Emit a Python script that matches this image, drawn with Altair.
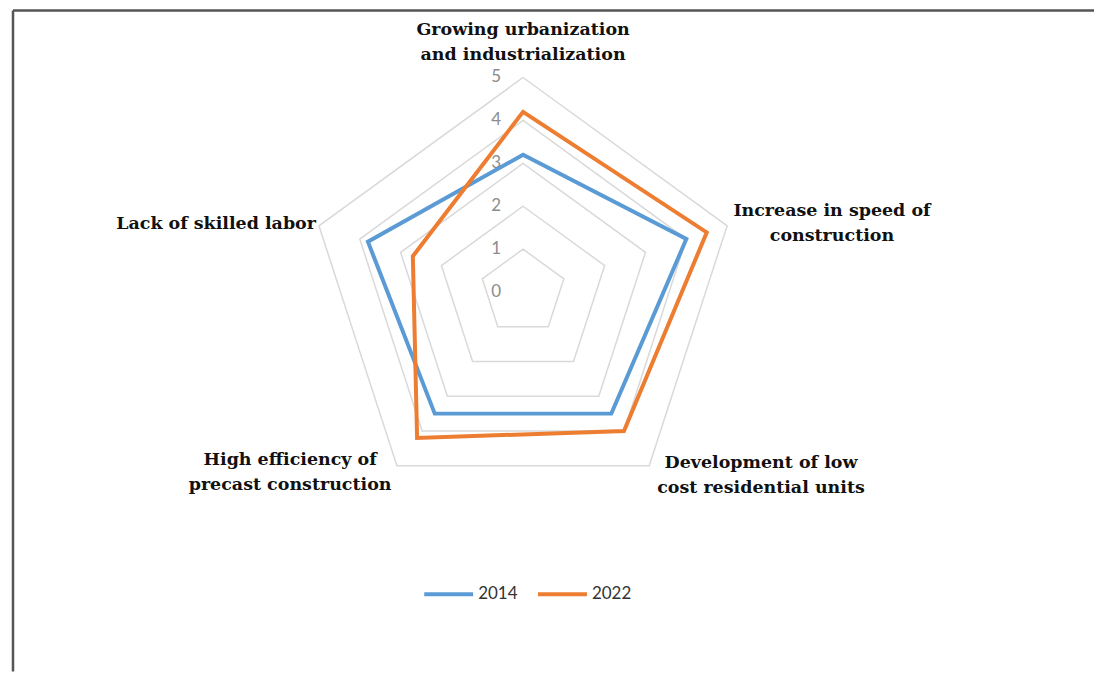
import math
import altair as alt
import pandas as pd

# ---------------- data ----------------
categories = [
    "Growing urbanization\nand industrialization",
    "Increase in speed of\nconstruction",
    "Development of low\ncost residential units",
    "High efficiency of\nprecast construction",
    "Lack of skilled labor",
]
series_names = ["2014", "2022"]
values_2014 = [3.2, 4.0, 3.5, 3.5, 3.8]
values_2022 = [4.2, 4.5, 4.0, 4.2, 2.7]
tick_labels = [0, 1, 2, 3, 4, 5]
grid_levels = [1, 2, 3, 4, 5]
max_level = 5

# ---------------- layout ----------------
W, H = 1088, 662
U = 43            # pixels per unit
CX, CY = 516, 282  # centre of radar in chart pixels
BLUE, ORANGE = "#5B9BD5", "#ED7D31"
GRID = "#D9D9D9"
LABEL_FONT = "DejaVu Serif"

n = len(categories)

rows = []
for name, vals in zip(series_names, [values_2014, values_2022]):
    for i, v in enumerate(vals):
        rows.append({"idx": i, "category": categories[i], "series": name, "value": v})
series_df = pd.DataFrame(rows)

grid_df = pd.DataFrame(
    [{"idx": i, "level": lv, "value": lv} for lv in grid_levels for i in range(n)]
)
tick_df = pd.DataFrame({"tick": tick_labels, "value": tick_labels, "idx": 0})
label_df = pd.DataFrame({"idx": list(range(n)), "category": categories, "value": max_level})

angle_expr = f"PI/2 - datum.idx*2*PI/{n}"
xscale = alt.Scale(domain=[-CX / U, (W - CX) / U], nice=False, zero=False)
yscale = alt.Scale(domain=[-(H - CY) / U, CY / U], nice=False, zero=False)


def polar(chart):
    return chart.transform_calculate(
        ang=angle_expr
    ).transform_calculate(
        px="datum.value*cos(datum.ang)", py="datum.value*sin(datum.ang)"
    )


X = alt.X("px:Q", scale=xscale, axis=None)
Y = alt.Y("py:Q", scale=yscale, axis=None)

grid = polar(alt.Chart(grid_df)).mark_line(
    color=GRID, strokeWidth=1.5, interpolate="linear-closed"
).encode(x=X, y=Y, detail="level:N", order="idx:Q")

lines = polar(alt.Chart(series_df)).mark_line(
    strokeWidth=4, interpolate="linear-closed"
).encode(
    x=X,
    y=Y,
    order="idx:Q",
    color=alt.Color(
        "series:N",
        scale=alt.Scale(domain=series_names, range=[BLUE, ORANGE]),
        legend=alt.Legend(
            title=None,
            orient="none",
            legendX=415,
            legendY=558,
            direction="horizontal",
            symbolType="stroke",
            symbolSize=2401,
            symbolStrokeWidth=4,
            labelFont="Lato",
            labelFontSize=17,
            labelColor="#333333",
            labelOffset=3,
            columnPadding=12,
            padding=0,
        ),
    ),
)

ticks = polar(alt.Chart(tick_df)).transform_calculate(px="0").mark_text(
    dx=-27, color="#8C8C8C", font="Lato", fontSize=17, baseline="middle"
).encode(x=X, y=Y, text="tick:Q")

label_layout = {
    0: dict(dx=0, dy=-48, align="center"),
    1: dict(dx=105, dy=-15, align="center"),
    2: dict(dx=112, dy=-3, align="center"),
    3: dict(dx=-107, dy=-6, align="center"),
    4: dict(dx=-3, dy=-2, align="right"),
}
label_layers = []
for i in range(n):
    lay = label_layout[i]
    label_layers.append(
        polar(alt.Chart(label_df))
        .transform_filter(f"datum.idx == {i}")
        .mark_text(
            font=LABEL_FONT,
            fontWeight="bold",
            fontSize=17.5,
            color="#111111",
            lineBreak="\n",
            lineHeight=25,
            baseline="middle",
            **lay,
        )
        .encode(x=X, y=Y, text="category:N")
    )

frame_df = pd.DataFrame({"a": [0]})
frame_top = alt.Chart(frame_df).mark_rule(color="#555555", strokeWidth=2.5).encode(
    x=alt.value(5), x2=alt.value(W), y=alt.value(0)
)
frame_left = alt.Chart(frame_df).mark_rule(color="#555555", strokeWidth=2.5).encode(
    x=alt.value(5), y=alt.value(0), y2=alt.value(H)
)

chart = alt.layer(
    frame_top, frame_left, grid, ticks, lines, *label_layers
).properties(
    width=W, height=H, padding=0, background="white"
).configure_view(stroke=None)

chart.save("out.html", embed_options={"renderer": "svg", "actions": False})
